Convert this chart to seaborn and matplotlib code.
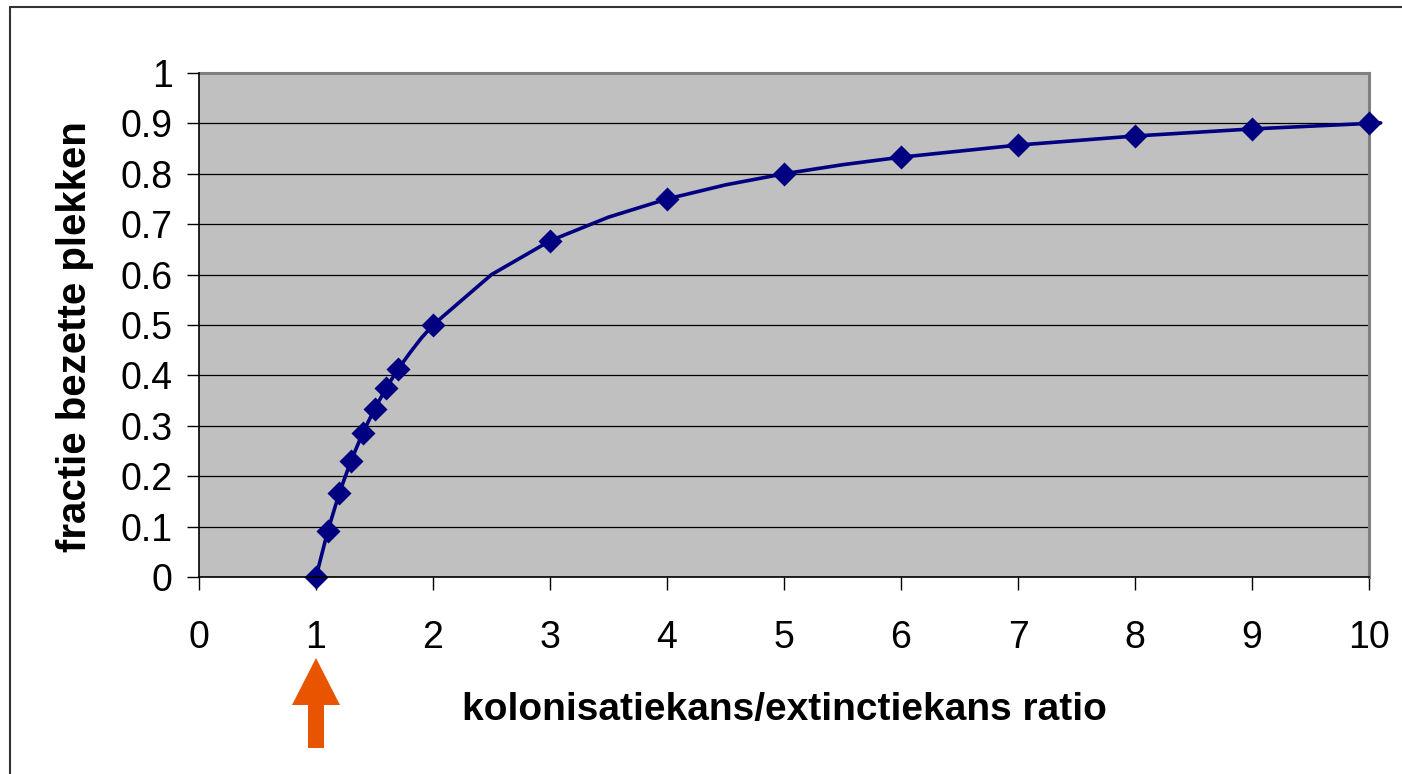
import matplotlib
matplotlib.use("Agg")
import matplotlib.pyplot as plt
from matplotlib.lines import Line2D
from matplotlib.patches import FancyArrow
from matplotlib.transforms import blended_transform_factory
import seaborn as sns
import pandas as pd

# Ratio colonisation/extinction and occupied fraction (curve vertices)
ratio = [1.0, 1.1, 1.2, 1.3, 1.4, 1.5, 1.6, 1.7, 1.8, 1.9, 2.0, 2.5, 3.0, 3.5,
         4.0, 4.5, 5.0, 5.5, 6.0, 7.0, 8.0, 9.0, 10.0, 10.1]
fraction = [0.0, 0.091, 0.167, 0.231, 0.286, 0.333, 0.375, 0.412, 0.444, 0.474,
            0.5, 0.6, 0.667, 0.714, 0.75, 0.778, 0.8, 0.818, 0.833, 0.857,
            0.875, 0.889, 0.9, 0.901]
# Points that carry a marker
marked_ratio = [1.0, 1.1, 1.2, 1.3, 1.4, 1.5, 1.6, 1.7, 2.0, 3.0, 4.0, 5.0,
                6.0, 7.0, 8.0, 9.0, 10.0]
marked_fraction = [0.0, 0.091, 0.167, 0.231, 0.286, 0.333, 0.375, 0.412, 0.5,
                   0.667, 0.75, 0.8, 0.833, 0.857, 0.875, 0.889, 0.9]

x_ticks = list(range(0, 11))
y_ticks = [0, 0.1, 0.2, 0.3, 0.4, 0.5, 0.6, 0.7, 0.8, 0.9, 1.0]
y_tick_labels = ["0", "0.1", "0.2", "0.3", "0.4", "0.5", "0.6", "0.7", "0.8", "0.9", "1"]

sns.set_style("white")
plt.rcParams["font.family"] = ["Liberation Sans", "DejaVu Sans"]
plt.rcParams["text.color"] = "black"

W, H = 1402, 774
fig = plt.figure(figsize=(W / 100, H / 100), dpi=100)
ax = fig.add_axes([199 / W, 1 - 577 / H, (1369 - 199) / W, (577 - 73) / H])
ax.set_facecolor("#C0C0C0")

curve = pd.DataFrame({"ratio": ratio, "fraction": fraction})
marks = pd.DataFrame({"ratio": marked_ratio, "fraction": marked_fraction})

navy = "#000080"
sns.lineplot(data=curve, x="ratio", y="fraction", sort=False, estimator=None,
             color=navy, linewidth=2.6, ax=ax, clip_on=False, zorder=3)
sns.scatterplot(data=marks, x="ratio", y="fraction", marker="D", s=150,
                color=navy, edgecolor=navy, linewidth=0, ax=ax,
                clip_on=False, zorder=4)

ax.set_xlim(0, 10)
ax.set_ylim(0, 1)
ax.set_xticks(x_ticks)
ax.set_yticks(y_ticks)
ax.set_yticklabels(y_tick_labels)
ax.grid(axis="y", color="black", linewidth=0.9)
ax.grid(axis="x", visible=False)
ax.set_axisbelow(True)

ax.tick_params(axis="both", direction="out", length=9, width=1, color="black",
               labelsize=27, labelcolor="black")
ax.tick_params(axis="y", pad=10, left=True)
ax.tick_params(axis="x", pad=22, bottom=True)

for side in ("top", "right"):
    ax.spines[side].set_color("#808080")
    ax.spines[side].set_linewidth(2.2)
for side in ("left", "bottom"):
    ax.spines[side].set_color("black")
    ax.spines[side].set_linewidth(1.2)
    ax.spines[side].set_zorder(5)

ax.set_xlabel("")
ax.set_ylabel("")
fig.text(784 / W, 1 - 710 / H, "kolonisatiekans/extinctiekans ratio",
         ha="center", va="center", fontsize=28, fontweight="bold",
         color="black")
fig.text(75 / W, 1 - 337 / H, "fractie bezette plekken", rotation=90,
         ha="center", va="center", fontsize=29, fontweight="bold",
         color="black")

# Orange arrow pointing at the threshold ratio of 1
trans = blended_transform_factory(ax.transData, ax.transAxes)
arrow = FancyArrow(1.0, -(748 - 577) / 504, 0, (748 - 658) / 504,
                   width=0.137, head_width=0.41, head_length=47 / 504,
                   length_includes_head=True, color="#E85400", linewidth=0,
                   transform=trans, clip_on=False)
ax.add_patch(arrow)

# Chart-area border
fig.add_artist(Line2D([10 / W, 10 / W], [0, 1 - 7 / H], color="#333333",
                      linewidth=1.5, transform=fig.transFigure))
fig.add_artist(Line2D([10 / W, 1], [1 - 7 / H, 1 - 7 / H], color="#333333",
                      linewidth=1.5, transform=fig.transFigure))

fig.savefig("out.png", dpi=100)
